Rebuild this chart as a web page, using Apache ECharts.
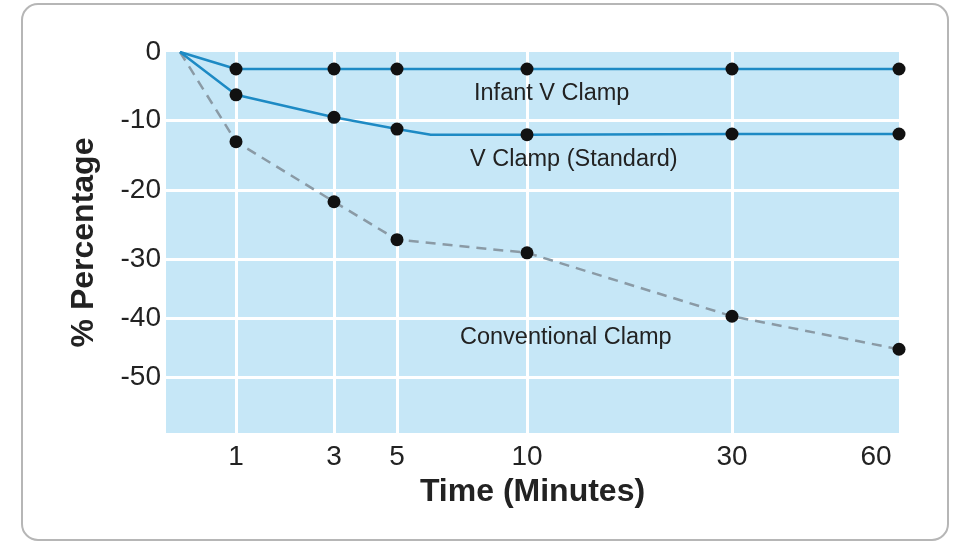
<!DOCTYPE html>
<html>
<head>
<meta charset="utf-8">
<script src="https://cdn.jsdelivr.net/npm/echarts@6/dist/echarts.min.js"></script>
<style>
html,body{margin:0;padding:0;background:#fff;}
#chart{width:953px;height:542px;}
</style>
</head>
<body>
<div id="chart"></div>
<script>
// ---- Data (minutes, % change) ----
const tickTimes = [1, 3, 5, 10, 30, 60];
const tickLabels = ['1', '3', '5', '10', '30', '60'];
const pctTicks = [0, -10, -20, -30, -40, -50];
const pctLabels = ['0', '-10', '-20', '-30', '-40', '-50'];

const infantTimes = [0, 1, 3, 5, 10, 30, 60];
const infantValues = [0, -2.5, -2.5, -2.5, -2.5, -2.5, -2.5];

const vClampTimes = [0, 1, 3, 5, 6.3, 10, 30, 60];
const vClampValues = [0, -6.3, -9.6, -11.3, -12.1, -12.1, -12.0, -12.0];

const convTimes = [0, 1, 3, 5, 10, 30, 60];
const convValues = [0, -13.1, -21.7, -27.2, -29.1, -39.7, -45.3];

// ---- Non-linear axis scales of the original figure (piecewise linear) ----
const X_SCALE_IN = [0, 1, 3, 5, 10, 30, 60];
const X_SCALE_OUT = [14, 70, 168, 231, 361, 566, 733];
const Y_SCALE_IN = [0, -10, -20, -30, -40, -50, -59.5];
const Y_SCALE_OUT = [0, -68, -138, -207, -266, -325, -381];

function piecewise(v, ins, outs) {
  const asc = ins[ins.length - 1] > ins[0];
  for (let i = 0; i < ins.length - 1; i++) {
    const a = ins[i], b = ins[i + 1];
    const inside = asc ? (v >= a && v <= b) : (v <= a && v >= b);
    if (inside) return outs[i] + (v - a) / (b - a) * (outs[i + 1] - outs[i]);
  }
  const n = ins.length - 1;
  return outs[n - 1] + (v - ins[n - 1]) / (ins[n] - ins[n - 1]) * (outs[n] - outs[n - 1]);
}
const toX = t => piecewise(t, X_SCALE_IN, X_SCALE_OUT);
const toY = p => piecewise(p, Y_SCALE_IN, Y_SCALE_OUT);

const FONT = '"Liberation Sans", Arial, Helvetica, sans-serif';

function buildData(times, values) {
  return times.map((t, i) => ({
    value: [toX(t), toY(values[i])],
    symbol: tickTimes.indexOf(t) >= 0 ? 'circle' : 'none'
  }));
}
function nearestIndex(v, ticks, fn) {
  let best = 0, bd = Infinity;
  ticks.forEach((t, i) => { const d = Math.abs(fn(t) - v); if (d < bd) { bd = d; best = i; } });
  return best;
}

const chart = echarts.init(document.getElementById('chart'), null, {renderer: 'canvas'});

const gridLines = [];
tickTimes.slice(0, tickTimes.length - 1).forEach(t => gridLines.push({xAxis: toX(t)}));
pctTicks.slice(1).forEach(p => gridLines.push({yAxis: toY(p)}));

const lineSeries = (name, times, values, color, type) => ({
  name: name,
  type: 'line',
  z: 3,
  data: buildData(times, values),
  symbolSize: 13,
  showSymbol: true,
  itemStyle: {color: '#111'},
  lineStyle: {color: color, width: 2.5, type: type},
  emphasis: {disabled: true},
  animation: false
});

const noteFont = '23.5px ' + FONT;

chart.setOption({
  animation: false,
  backgroundColor: '#ffffff',
  graphic: [
    {type: 'rect', shape: {x: 22, y: 4, width: 926, height: 536, r: 16},
     style: {fill: 'none', stroke: '#b6b6b6', lineWidth: 2}, z: -10, silent: true},
    {type: 'text', x: 474, y: 94, z: 10, silent: true,
     style: {text: 'Infant V Clamp', font: noteFont, fill: '#222', verticalAlign: 'middle'}},
    {type: 'text', x: 470, y: 160, z: 10, silent: true,
     style: {text: 'V Clamp (Standard)', font: noteFont, fill: '#222', verticalAlign: 'middle'}},
    {type: 'text', x: 460, y: 338, z: 10, silent: true,
     style: {text: 'Conventional Clamp', font: noteFont, fill: '#222', verticalAlign: 'middle'}}
  ],
  grid: {
    left: 166, right: 54, top: 52, bottom: 109,
    show: true, backgroundColor: '#c6e7f7', borderWidth: 0
  },
  xAxis: {
    type: 'value',
    min: 0, max: X_SCALE_OUT[X_SCALE_OUT.length - 1],
    name: 'Time (Minutes)',
    nameLocation: 'middle',
    nameGap: 41,
    nameTextStyle: {fontFamily: FONT, fontSize: 32, fontWeight: 'bold', color: '#222'},
    axisLine: {show: false},
    axisTick: {show: false},
    splitLine: {show: false},
    axisLabel: {
      customValues: tickTimes.map(toX),
      formatter: v => {
        const i = nearestIndex(v, tickTimes, toX);
        return i === tickTimes.length - 1 ? '{last|' + tickLabels[i] + '}' : tickLabels[i];
      },
      rich: {last: {fontFamily: FONT, fontSize: 28, color: '#222', padding: [0, 46, 0, 0]}},
      fontFamily: FONT, fontSize: 28, color: '#222', margin: 10
    }
  },
  yAxis: {
    type: 'value',
    min: Y_SCALE_OUT[Y_SCALE_OUT.length - 1], max: 0,
    name: '% Percentage',
    nameLocation: 'middle',
    nameGap: 66,
    nameRotate: 90,
    nameTextStyle: {fontFamily: FONT, fontSize: 32, fontWeight: 'bold', color: '#222'},
    axisLine: {show: false},
    axisTick: {show: false},
    splitLine: {show: false},
    axisLabel: {
      customValues: pctTicks.map(toY),
      formatter: v => pctLabels[nearestIndex(v, pctTicks, toY)],
      fontFamily: FONT, fontSize: 28, color: '#222', margin: 5
    }
  },
  series: [
    {
      type: 'line', z: 1, data: [], silent: true,
      markLine: {
        z: 1, silent: true, symbol: 'none', label: {show: false},
        lineStyle: {color: '#ffffff', width: 3, type: 'solid'},
        emphasis: {disabled: true},
        data: gridLines,
        animation: false
      }
    },
    lineSeries('Conventional Clamp', convTimes, convValues, '#8a9aa5', [10, 7]),
    lineSeries('V Clamp (Standard)', vClampTimes, vClampValues, '#1d8ac4', 'solid'),
    lineSeries('Infant V Clamp', infantTimes, infantValues, '#1d8ac4', 'solid')
  ]
});
</script>
</body>
</html>
